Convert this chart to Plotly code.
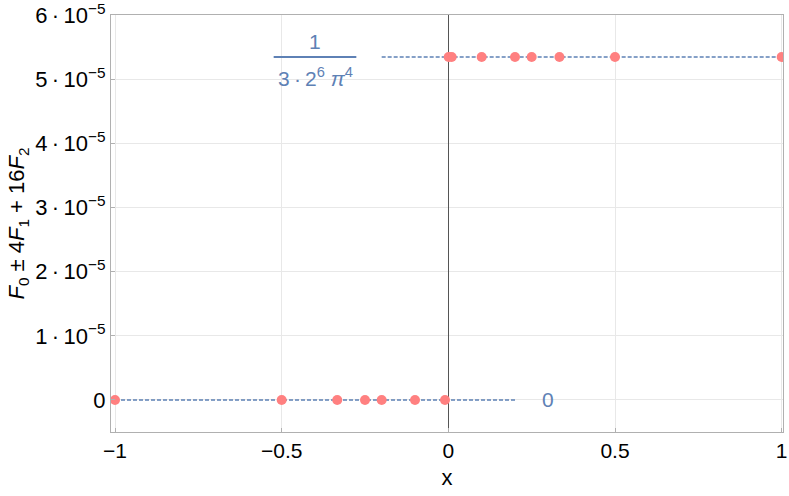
import math
import plotly.graph_objects as go

# ---- data ----
level_high = 1 / (3 * 2**6 * math.pi**4)   # ≈ 5.347e-5
level_low = 0.0

x_low_points = [-1, -0.5, -1/3, -0.25, -0.2, -0.1, -0.01]
x_high_points = [0.001, 0.01, 0.1, 0.2, 0.25, 1/3, 0.5, 1]

x_low_line = [-1, 0.2]
x_high_line = [-0.2, 1]

y_tickvals = [0, 1e-5, 2e-5, 3e-5, 4e-5, 5e-5, 6e-5]
y_ticktext = ["0"] + [f"{k}\u2009·\u200910<sup>−5</sup>" for k in range(1, 7)]
x_tickvals = [-1, -0.5, 0, 0.5, 1]
x_ticktext = ["−1", "−0.5", "0", "0.5", "1"]

LINE_C = "#5E81B5"
PT_C = "#FF8080"
FONT = "Liberation Sans, Arial, sans-serif"

fig = go.Figure()
fig.add_trace(go.Scatter(x=x_low_line, y=[level_low] * 2, mode="lines",
                         line=dict(color=LINE_C, width=1.5, dash="4px,2px"),
                         hoverinfo="skip", showlegend=False))
fig.add_trace(go.Scatter(x=x_high_line, y=[level_high] * 2, mode="lines",
                         line=dict(color=LINE_C, width=1.5, dash="4px,2px"),
                         hoverinfo="skip", showlegend=False))
fig.add_trace(go.Scatter(x=x_low_points, y=[level_low] * len(x_low_points), mode="markers",
                         marker=dict(color=PT_C, size=10), showlegend=False))
fig.add_trace(go.Scatter(x=x_high_points, y=[level_high] * len(x_high_points), mode="markers",
                         marker=dict(color=PT_C, size=10), showlegend=False))

# labels
fig.add_annotation(x=0.3, y=level_low, text="0", showarrow=False,
                   font=dict(family=FONT, size=21, color=LINE_C))
frac_x = -0.4
fig.add_annotation(x=frac_x, y=level_high, yshift=16, text="1", showarrow=False,
                   font=dict(family=FONT, size=21, color=LINE_C))
fig.add_annotation(x=frac_x, y=level_high, yshift=-20,
                   text="3\u2009·\u20092<sup>6</sup> <i>π</i><sup>4</sup>", showarrow=False,
                   font=dict(family=FONT, size=21, color=LINE_C))
fig.add_shape(type="line", xref="x", yref="y", x0=frac_x - 0.124, x1=frac_x + 0.124,
              y0=level_high, y1=level_high, line=dict(color=LINE_C, width=2))

fig.update_layout(
    width=789, height=496,
    margin=dict(l=111, r=6, t=15, b=64),
    paper_bgcolor="white", plot_bgcolor="white",
    font=dict(family=FONT, size=22, color="black"),
    xaxis=dict(range=[-1.012, 1.004], tickvals=x_tickvals, ticktext=x_ticktext,
               showgrid=True, gridcolor="#E8E8E8", gridwidth=1,
               zeroline=True, zerolinecolor="#555555", zerolinewidth=1,
               showline=True, linecolor="#B0B0B0", linewidth=1, mirror=True,
               ticks="inside", ticklen=4, tickcolor="#B0B0B0",
               tickfont=dict(size=21), ticklabeloverflow="allow",
               automargin=False,
               title=dict(text="x", font=dict(size=22), standoff=8)),
    yaxis=dict(range=[-0.5e-5, 6.002e-5], tickvals=y_tickvals, ticktext=y_ticktext,
               showgrid=True, gridcolor="#E8E8E8", gridwidth=1,
               zeroline=False,
               showline=True, linecolor="#B0B0B0", linewidth=1, mirror=True,
               ticks="inside", ticklen=4, tickcolor="#B0B0B0",
               ticklabeloverflow="allow",
               automargin=False,
               title=dict(text="<i>F</i><sub>0</sub> ± 4<i>F</i><sub>1</sub> + 16<i>F</i><sub>2</sub>",
                          font=dict(size=22), standoff=4)),
)

fig.write_html("out.html", config={"displayModeBar": False},
               post_script="document.body.style.margin='0';")
